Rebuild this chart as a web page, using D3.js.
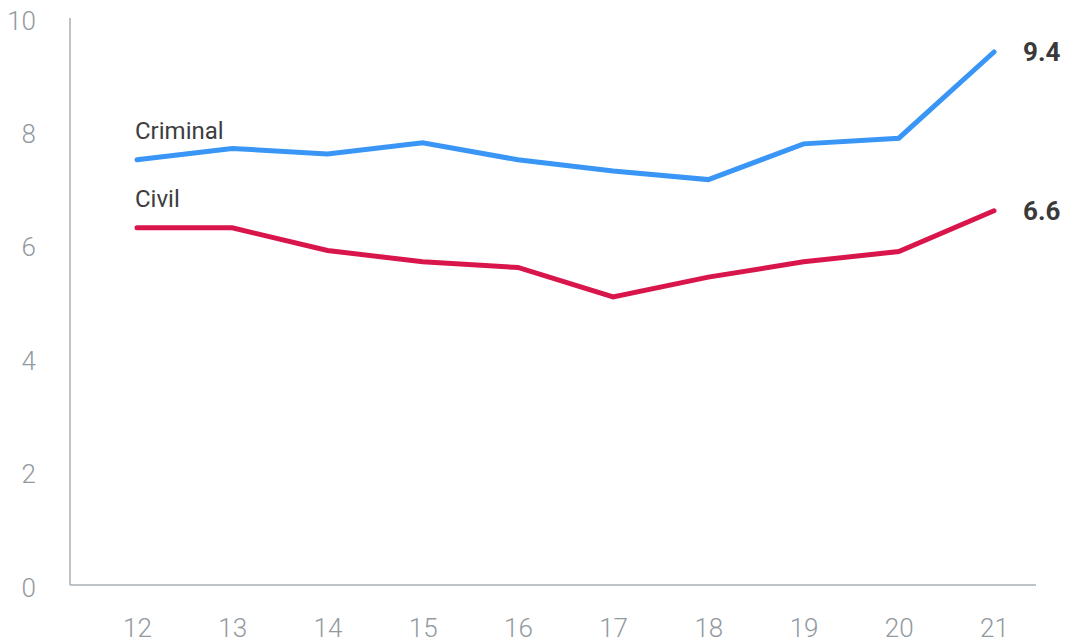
<!DOCTYPE html>
<html>
<head>
<meta charset="utf-8">
<script src="https://cdn.jsdelivr.net/npm/d3@7"></script>
<style>
  html, body { margin: 0; padding: 0; background: #fff; }
  svg { display: block; }
</style>
</head>
<body>
<svg id="chart" width="1072" height="643"></svg>
<script>
// Years (two-digit) along the x axis
const years = ["12", "13", "14", "15", "16", "17", "18", "19", "20", "21"];
// Series values
const criminal = [7.5, 7.7, 7.6, 7.8, 7.5, 7.3, 7.15, 7.78, 7.88, 9.4];
const civil = [6.3, 6.3, 5.9, 5.7, 5.6, 5.08, 5.43, 5.7, 5.88, 6.6];
// Y axis ticks
const yTicks = [0, 2, 4, 6, 8, 10];

const svg = d3.select("#chart");

const x = d3.scalePoint().domain(years).range([137, 994]);
const y = d3.scaleLinear().domain([0, 10]).range([585, 18]);

const axisColor = "#a9afb5";
const tickText = "#929aa1";
const font = "Roboto, 'Open Sans', sans-serif";

// Axis lines
svg.append("line")
  .attr("x1", 70).attr("x2", 70)
  .attr("y1", 18).attr("y2", 585)
  .attr("stroke", axisColor).attr("stroke-width", 1.5);
svg.append("line")
  .attr("x1", 70).attr("x2", 1036)
  .attr("y1", 585).attr("y2", 585)
  .attr("stroke", axisColor).attr("stroke-width", 1.5);

// Y axis tick labels
const yAxis = d3.axisLeft(y).tickValues(yTicks).tickSize(0).tickPadding(0);
const gy = svg.append("g").attr("transform", "translate(36,2)").call(yAxis);
gy.select(".domain").remove();
gy.selectAll("text")
  .attr("fill", tickText)
  .attr("font-family", font)
  .attr("font-weight", 300)
  .attr("font-size", 26)
  .attr("dy", "0.35em");

// X axis tick labels
const xAxis = d3.axisBottom(x).tickSize(0).tickPadding(0);
const gx = svg.append("g").attr("transform", "translate(0,628)").call(xAxis);
gx.select(".domain").remove();
gx.selectAll("text")
  .attr("fill", tickText)
  .attr("font-family", font)
  .attr("font-weight", 300)
  .attr("font-size", 26)
  .attr("dy", "0.35em");

const line = d3.line()
  .x((d, i) => x(years[i]))
  .y(d => y(d));

const series = [
  { name: "Criminal", values: criminal, color: "#3996f6" },
  { name: "Civil", values: civil, color: "#d9164b" }
];

series.forEach(s => {
  svg.append("path")
    .datum(s.values)
    .attr("d", line)
    .attr("fill", "none")
    .attr("stroke", s.color)
    .attr("stroke-width", 5)
    .attr("stroke-linecap", "round")
    .attr("stroke-linejoin", "miter");

  // Series name above the first point
  svg.append("text")
    .attr("x", x(years[0]) - 2)
    .attr("y", y(s.values[0]) - 21)
    .attr("fill", "#3d3d3d")
    .attr("font-family", font)
    .attr("font-size", 24)
    .text(s.name);

  // Final value label
  const last = s.values[s.values.length - 1];
  svg.append("text")
    .attr("x", 1023)
    .attr("y", y(last))
    .attr("dy", "0.35em")
    .attr("fill", "#3a3a3a")
    .attr("font-family", font)
    .attr("font-weight", 700)
    .attr("font-size", 26)
    .text(d3.format(".1f")(last));
});
</script>
</body>
</html>
